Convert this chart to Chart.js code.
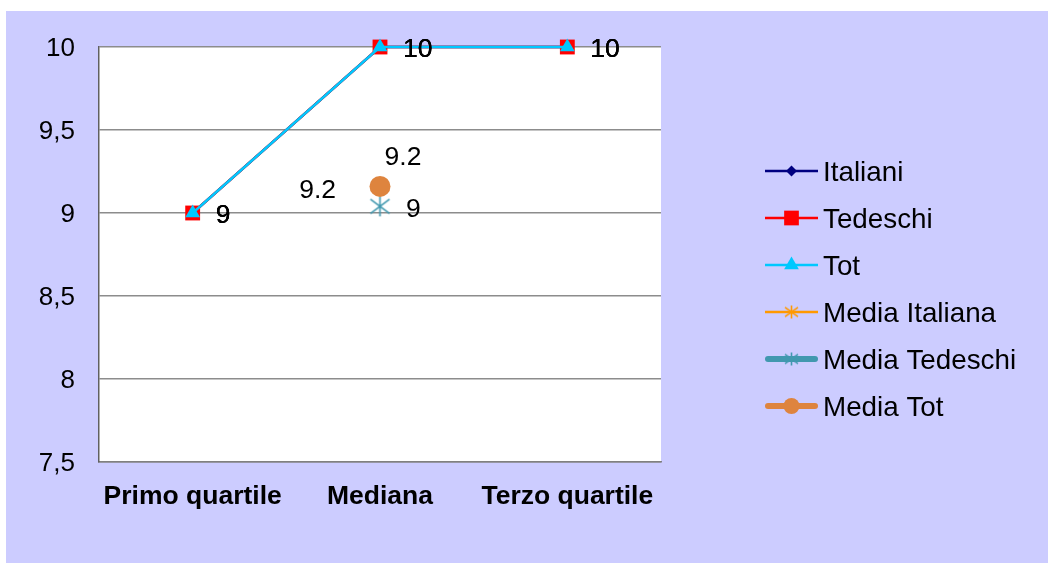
<!DOCTYPE html>
<html>
<head>
<meta charset="utf-8">
<script src="https://cdn.jsdelivr.net/npm/chart.js"></script>
<style>
  html, body { margin: 0; padding: 0; background: #ffffff; }
  #wrap { position: absolute; left: 0; top: 0; width: 1051px; height: 563px; }
</style>
</head>
<body>
<div id="wrap"><canvas id="c" width="1051" height="563"></canvas></div>
<script>
// Quartili e medie dei voti
const categories = ['Primo quartile', 'Mediana', 'Terzo quartile'];
const italiani = [9, 10, 10];
const tedeschi = [9, 10, 10];
const tot = [9, 10, 10];
const mediaItaliana = [null, 9.17, null];
const mediaTedeschi = [null, 9.04, null];
const mediaTot = [null, 9.16, null];
const yMin = 7.5;
const yMax = 10;
const yStep = 0.5;

const FONT = '"Liberation Sans", Arial, sans-serif';

// Asterisk marker (X plus a vertical stroke) as a small canvas
function makeAsterisk(color, hw, hh, lw) {
  const c = document.createElement('canvas');
  const w = Math.ceil(hw * 2 + lw * 2 + 2), h = Math.ceil(hh * 2 + lw * 2 + 2);
  c.width = w; c.height = h;
  const g = c.getContext('2d');
  const cx = w / 2, cy = h / 2;
  g.strokeStyle = color; g.lineWidth = lw; g.lineCap = 'butt';
  g.beginPath();
  g.moveTo(cx, cy - hh); g.lineTo(cx, cy + hh);
  g.moveTo(cx - hw, cy - hh * 0.72); g.lineTo(cx + hw, cy + hh * 0.72);
  g.moveTo(cx - hw, cy + hh * 0.72); g.lineTo(cx + hw, cy - hh * 0.72);
  g.stroke();
  return c;
}

const C_ITA = '#000080', C_TED = '#FF0000', C_TOT = '#00C8FF';
const C_MITA = '#FF9900', C_MTED = '#4198AF', C_MTOT = '#DE843E';

function labelText(v) {
  const s = v.toFixed(1);
  return s.endsWith('.0') ? s.slice(0, -2) : s;
}

// Plot background: lavender frame and white plotting area
const backdrop = {
  id: 'backdrop',
  beforeDraw(chart) {
    const { ctx, chartArea: a } = chart;
    ctx.save();
    ctx.fillStyle = '#CCCCFF';
    ctx.fillRect(6, 11, 1042, 552);
    ctx.fillStyle = '#FFFFFF';
    ctx.fillRect(a.left, a.top, a.right - a.left, a.bottom - a.top);
    ctx.restore();
  }
};

// Value labels next to each point
const valueLabels = {
  id: 'valueLabels',
  afterDatasetsDraw(chart) {
    const { ctx } = chart;
    ctx.save();
    ctx.font = '26.5px ' + FONT;
    ctx.fillStyle = '#000000';
    ctx.textBaseline = 'middle';
    chart.data.datasets.forEach((ds, i) => {
      const lab = ds.valueLabel;
      if (!lab) return;
      const meta = chart.getDatasetMeta(i);
      meta.data.forEach((pt, j) => {
        const v = ds.data[j];
        if (v === null || v === undefined) return;
        ctx.textAlign = lab.align;
        ctx.fillText(labelText(v), pt.x + lab.dx, pt.y + lab.dy);
      });
    });
    ctx.restore();
  }
};

// Legend on the right: line sample with marker, then the series name
const sideLegend = {
  id: 'sideLegend',
  afterDraw(chart) {
    const { ctx, chartArea: a } = chart;
    const n = chart.data.datasets.length;
    const gap = 47;
    const x0 = a.right + 104, x1 = x0 + 53, xm = (x0 + x1) / 2;
    const yc = (a.top + a.bottom) / 2 + 34;
    const y0 = yc - gap * (n - 1) / 2;
    ctx.save();
    chart.data.datasets.forEach((ds, i) => {
      const y = y0 + i * gap;
      const thick = ds.legendLineWidth > 3;
      ctx.strokeStyle = ds.borderColor;
      ctx.lineWidth = ds.legendLineWidth;
      ctx.lineCap = thick ? 'round' : 'butt';
      ctx.beginPath();
      ctx.moveTo(x0 + (thick ? 3 : 0), y);
      ctx.lineTo(x1 - (thick ? 3 : 0), y);
      ctx.stroke();
      ctx.fillStyle = ds.backgroundColor;
      ctx.strokeStyle = ds.backgroundColor;
      Chart.helpers.drawPoint(ctx, {
        pointStyle: ds.legendPointStyle || ds.pointStyle,
        radius: ds.legendPointRadius,
        rotation: 0,
        borderWidth: 0
      }, xm, y);
      ctx.fillStyle = '#000000';
      ctx.font = '27.8px ' + FONT;
      ctx.textAlign = 'left';
      ctx.textBaseline = 'middle';
      ctx.fillText(ds.label, x1 + 5, y + 2);
    });
    ctx.restore();
  }
};

const yTickValues = [];
for (let v = yMin; v <= yMax + 1e-9; v += yStep) yTickValues.push(v);

new Chart(document.getElementById('c'), {
  type: 'line',
  data: {
    labels: categories,
    datasets: [
      {
        label: 'Italiani', data: italiani, order: 5, clip: false,
        borderColor: C_ITA, backgroundColor: C_ITA, borderWidth: 2.5,
        pointStyle: 'rectRot', pointRadius: 6, pointBorderWidth: 0,
        legendLineWidth: 2.5, legendPointRadius: 5.5,
        valueLabel: { align: 'left', dx: 23, dy: 3 }
      },
      {
        label: 'Tedeschi', data: tedeschi, order: 4, clip: false,
        borderColor: C_TED, backgroundColor: C_TED, borderWidth: 2.5,
        pointStyle: 'rect', pointRadius: 10.5, pointBorderWidth: 0,
        legendLineWidth: 2.5, legendPointRadius: 10.4,
        valueLabel: { align: 'left', dx: 23, dy: 3 }
      },
      {
        label: 'Tot', data: tot, order: 3, clip: false,
        borderColor: C_TOT, backgroundColor: C_TOT, borderWidth: 2.5,
        pointStyle: 'triangle', pointRadius: 8.5, pointBorderWidth: 0,
        legendLineWidth: 2.5, legendPointRadius: 8.5,
        valueLabel: { align: 'left', dx: 23, dy: 3 }
      },
      {
        label: 'Media Italiana', data: mediaItaliana, order: 2, clip: false,
        borderColor: C_MITA, backgroundColor: C_MITA, borderWidth: 2.5,
        pointStyle: makeAsterisk(C_MITA, 6.5, 7, 1.6), pointRadius: 7,
        legendPointStyle: makeAsterisk(C_MITA, 6.5, 6.5, 1.6),
        legendLineWidth: 2.5, legendPointRadius: 7,
        valueLabel: { align: 'right', dx: -44, dy: 6 }
      },
      {
        label: 'Media Tedeschi', data: mediaTedeschi, order: 1, clip: false,
        borderColor: C_MTED, backgroundColor: C_MTED, borderWidth: 6,
        pointStyle: makeAsterisk(C_MTED, 9.5, 10, 1.6), pointRadius: 10,
        legendPointStyle: makeAsterisk(C_MTED, 6.5, 6.5, 1.6),
        legendLineWidth: 6, legendPointRadius: 7,
        valueLabel: { align: 'left', dx: 26, dy: 3 }
      },
      {
        label: 'Media Tot', data: mediaTot, order: 0, clip: false,
        borderColor: C_MTOT, backgroundColor: C_MTOT, borderWidth: 6,
        pointStyle: 'circle', pointRadius: 10.5, pointBorderWidth: 0,
        legendLineWidth: 6, legendPointRadius: 8,
        valueLabel: { align: 'center', dx: 23, dy: -29 }
      }
    ]
  },
  options: {
    responsive: false,
    devicePixelRatio: 1,
    animation: false,
    events: [],
    layout: { padding: { left: 39, top: 47, right: 390, bottom: 41 } },
    elements: { line: { tension: 0 } },
    plugins: {
      legend: { display: false },
      tooltip: { enabled: false }
    },
    scales: {
      x: {
        offset: true,
        grid: { display: false, drawTicks: false },
        border: { display: true, color: '#808080', width: 1.5 },
        ticks: {
          color: '#000000',
          font: { family: FONT, size: 26.5, weight: 'bold' },
          padding: 19,
          maxRotation: 0, autoSkip: false
        },
        afterFit(s) { s.height = 60; }
      },
      y: {
        min: yMin, max: yMax,
        afterBuildTicks(s) { s.ticks = yTickValues.map(v => ({ value: v })); },
        grid: { color: '#8C8C8C', lineWidth: 1.5, drawTicks: false },
        border: { display: true, color: '#606060', width: 1.5 },
        ticks: {
          color: '#000000',
          font: { family: FONT, size: 26 },
          padding: 24,
          labelOffset: 2,
          callback: v => String(v).replace('.', ',')
        },
        afterFit(s) { s.width = 60; }
      }
    }
  },
  plugins: [backdrop, valueLabels, sideLegend]
});
</script>
</body>
</html>
